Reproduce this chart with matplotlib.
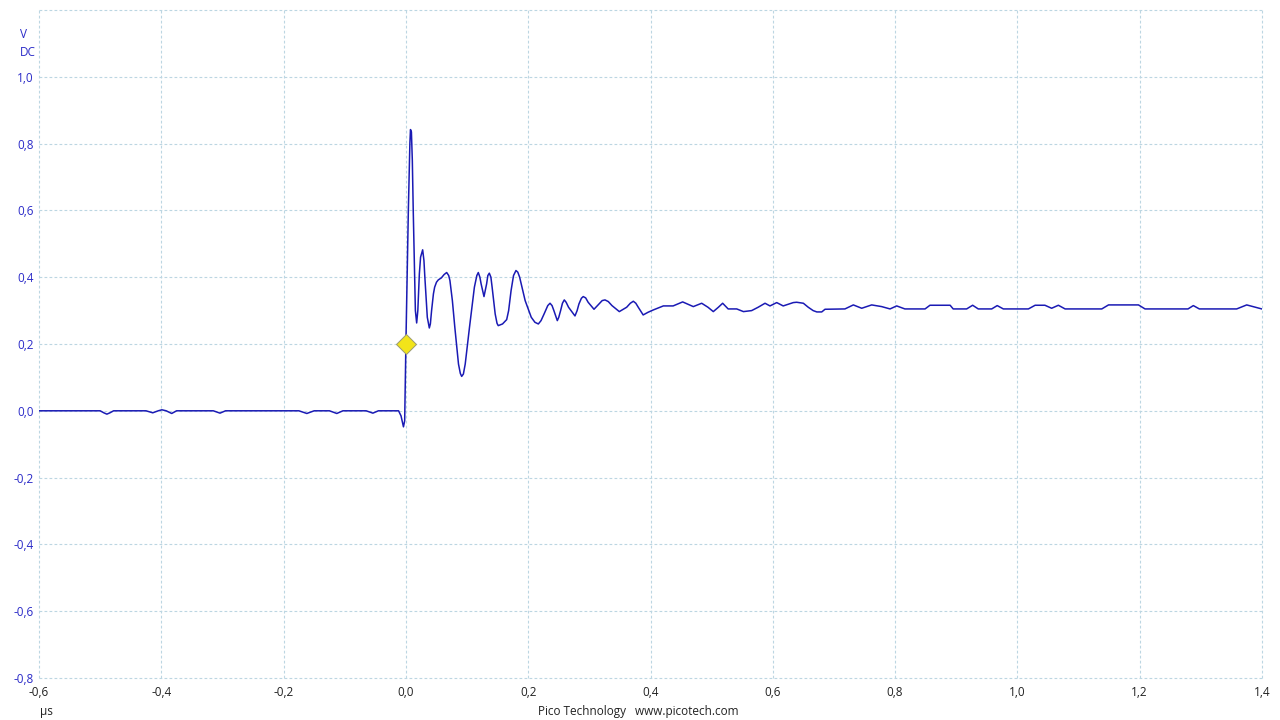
import matplotlib
matplotlib.use("Agg")
import matplotlib.pyplot as plt

# Waveform samples (time in µs, voltage in V)
t_us = [-0.6, -0.50, -0.494, -0.489, -0.484, -0.478, -0.425, -0.414, -0.405, -0.399, -0.392,
        -0.383, -0.375, -0.315, -0.304, -0.295, -0.175, -0.162, -0.150, -0.125, -0.113,
        -0.103, -0.065, -0.054, -0.045, -0.012, -0.008, -0.004, -0.002, 0.0, 0.004,
        0.0065, 0.0075, 0.009, 0.0105, 0.012, 0.0155, 0.0176, 0.0195, 0.022, 0.024, 0.0274,
        0.0295, 0.031, 0.035, 0.0383, 0.040, 0.042, 0.045, 0.047, 0.050, 0.053, 0.058,
        0.0625, 0.0667, 0.070, 0.072, 0.076, 0.080, 0.086, 0.089, 0.0912,
        0.094, 0.097, 0.104, 0.112, 0.116, 0.1184, 0.121, 0.123, 0.1277, 0.132, 0.134,
        0.1364, 0.139, 0.141, 0.146, 0.149, 0.151, 0.158, 0.1648, 0.168, 0.172, 0.176,
        0.18, 0.183, 0.186, 0.195, 0.205, 0.211, 0.2166, 0.221, 0.226,
        0.232, 0.2357, 0.239, 0.242, 0.2476, 0.250, 0.253, 0.256, 0.259, 0.262, 0.266,
        0.2765, 0.280, 0.283, 0.287, 0.290, 0.294, 0.298,
        0.3076, 0.316, 0.321, 0.3256, 0.331, 0.337, 0.349, 0.361, 0.367, 0.3719, 0.376,
        0.38, 0.388, 0.396,
        0.4046, 0.421, 0.437, 0.4526, 0.47, 0.4837, 0.494, 0.5027, 0.511, 0.518,
        0.527, 0.541, 0.552, 0.5654, 0.576, 0.5873, 0.5954, 0.6064, 0.617, 0.6335,
        0.639, 0.650, 0.658, 0.666, 0.672, 0.680, 0.6854, 0.718, 0.7317, 0.7454,
        0.7617, 0.778, 0.7917, 0.8026, 0.816, 0.849, 0.857, 0.890, 0.895, 0.917,
        0.9268, 0.936, 0.958, 0.967, 0.977, 1.018, 1.029, 1.045, 1.056, 1.067,
        1.078, 1.138, 1.149, 1.198, 1.2087, 1.279, 1.2877, 1.2975, 1.3586, 1.375,
        1.3996]
volts = [0.0, 0.0, -0.006, -0.010, -0.006, 0.0, 0.0, -0.006, 0.0, 0.003, 0.0,
         -0.008, 0.0, 0.0, -0.007, 0.0, 0.0, -0.008, 0.0, 0.0, -0.008,
         0.0, 0.0, -0.007, 0.0, 0.0, -0.015, -0.048, -0.03, 0.2, 0.6,
         0.80, 0.842, 0.835, 0.75, 0.6, 0.3, 0.263, 0.3, 0.41, 0.46, 0.482,
         0.45, 0.4, 0.28, 0.248, 0.26, 0.3, 0.35, 0.37, 0.385, 0.392, 0.398,
         0.408, 0.414, 0.405, 0.39, 0.33, 0.25, 0.14, 0.112, 0.103,
         0.11, 0.14, 0.25, 0.37, 0.405, 0.414, 0.40, 0.38, 0.342, 0.38, 0.405,
         0.412, 0.40, 0.37, 0.29, 0.262, 0.255, 0.26, 0.273, 0.30, 0.36, 0.405,
         0.42, 0.415, 0.40, 0.33, 0.28, 0.265, 0.26, 0.27, 0.29,
         0.315, 0.322, 0.315, 0.30, 0.27, 0.28, 0.30, 0.322, 0.332, 0.325, 0.31,
         0.284, 0.30, 0.32, 0.337, 0.342, 0.338, 0.325,
         0.304, 0.32, 0.33, 0.332, 0.327, 0.315, 0.297, 0.31, 0.322, 0.328, 0.322,
         0.31, 0.287, 0.295,
         0.302, 0.314, 0.314, 0.326, 0.312, 0.322, 0.31, 0.297, 0.31, 0.322,
         0.305, 0.305, 0.297, 0.300, 0.31, 0.322, 0.314, 0.324, 0.314, 0.324,
         0.325, 0.322, 0.31, 0.300, 0.296, 0.296, 0.304, 0.305, 0.317, 0.307,
         0.317, 0.312, 0.305, 0.314, 0.305, 0.305, 0.316, 0.316, 0.305, 0.305,
         0.316, 0.305, 0.305, 0.315, 0.305, 0.305, 0.316, 0.316, 0.307, 0.316,
         0.305, 0.305, 0.317, 0.317, 0.305, 0.305, 0.315, 0.305, 0.305, 0.317,
         0.305]

trigger_t = [0.0]
trigger_v = [0.2]

x_ticks = [-0.6, -0.4, -0.2, 0.0, 0.2, 0.4, 0.6, 0.8, 1.0, 1.2, 1.4]
y_ticks = [-0.8, -0.6, -0.4, -0.2, 0.0, 0.2, 0.4, 0.6, 0.8, 1.0, 1.2]
x_labels = ["-0,6", "-0,4", "-0,2", "0,0", "0,2", "0,4", "0,6", "0,8", "1,0", "1,2", "1,4"]
y_labels = ["-0,8", "-0,6", "-0,4", "-0,2", "0,0", "0,2", "0,4", "0,6", "0,8", "1,0", ""]

plt.rcParams['font.family'] = ['Open Sans', 'DejaVu Sans']

fig = plt.figure(figsize=(12.8, 7.2), dpi=100)
ax = fig.add_axes([39/1280, 42/720, 1223/1280, 668/720])
ax.set_xlim(-0.6, 1.4)
ax.set_ylim(-0.8, 1.2)

ax.plot(t_us, volts, color='#1a1ab4', lw=1.1, zorder=3, solid_joinstyle='round')
ax.plot(trigger_t, trigger_v, marker='D', ms=10, mfc='#f2e41a', mec='#9a9a70',
        mew=0.7, ls='none', zorder=4)

ax.set_xticks(x_ticks)
ax.set_xticklabels(x_labels, color='#222222', fontsize=8.5)
ax.set_yticks(y_ticks)
ax.set_yticklabels(y_labels, color='#2b2bc8', fontsize=8.5)
ax.tick_params(axis='both', length=0, pad=4)
ax.tick_params(axis='x', pad=6)
for s in ax.spines.values():
    s.set_visible(False)
ax.grid(True, color='#bcd6e2', ls=(0, (2.5, 2)), lw=0.8)
for gl in ax.get_xgridlines() + ax.get_ygridlines():
    gl.set_clip_on(False)

fig.text(24/1280, 1 - 35/720, "V", color='#2b2bc8', fontsize=8.5, ha='center', va='center')
fig.text(28/1280, 1 - 52/720, "DC", color='#2b2bc8', fontsize=8.5, ha='center', va='center')
fig.text(46/1280, 1 - 712/720, "µs", color='#222222', fontsize=8.5, ha='center', va='center')
fig.text(638/1280, 1 - 712/720, "Pico Technology   www.picotech.com", color='#222222',
         fontsize=8.5, ha='center', va='center')

fig.savefig("out.png", dpi=100, facecolor='white')
